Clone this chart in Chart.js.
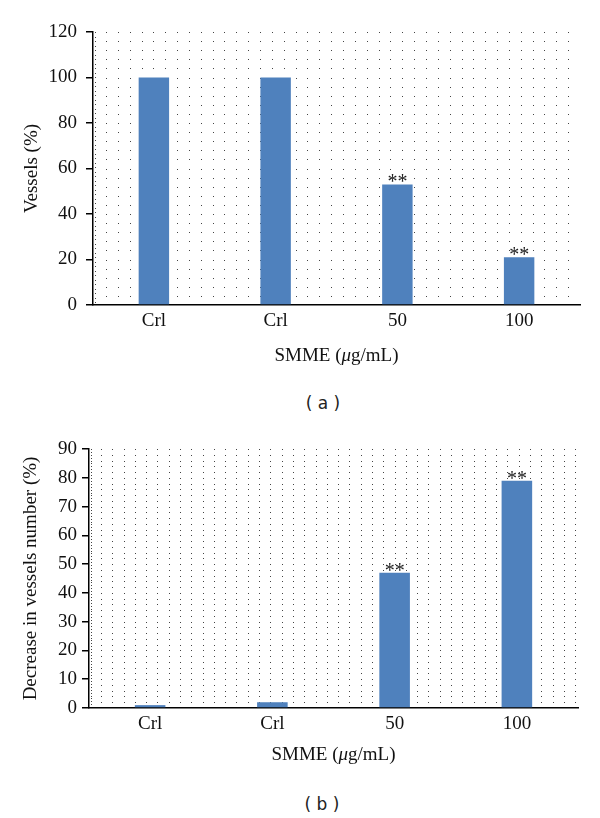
<!DOCTYPE html>
<html lang="en">
<head>
    <meta charset="UTF-8">
    <title>SMME vessels</title>
    <script src="https://cdn.jsdelivr.net/npm/chart.js"></script>
    <style>
        body {
            margin: 0;
            padding: 0;
            background: #fff;
            width: 600px;
            height: 818px;
            position: relative;
            overflow: hidden;
        }
        .panel {
            position: absolute;
            left: 0;
        }
        .tag {
            position: absolute;
            width: 80px;
            text-align: center;
            font-family: 'DejaVu Sans', sans-serif;
            font-size: 17px;
            color: #222;
            line-height: 20px;
        }
    </style>
</head>
<body>
    <div class="panel" style="top: 0;"><canvas id="chartA" width="600" height="372"></canvas></div>
    <div class="tag" style="left: 283px; top: 393px;">( a )</div>
    <div class="panel" style="top: 417px;"><canvas id="chartB" width="600" height="355"></canvas></div>
    <div class="tag" style="left: 282px; top: 794px;">( b )</div>

    <script>
        const categories = ['Crl', 'Crl', '50', '100'];
        const vesselsPct = [100, 100, 53, 21];
        const decreasePct = [1, 2, 47, 79];
        const significance = ['', '', '**', '**'];
        const xTitleParts = ['SMME (', '\u03bc', 'g/mL)'];   // middle part in italics

        const serif = '"Liberation Serif", "Times New Roman", serif';
        const barColor = '#4f81bd';

        // dotted background pattern, rows placed from the y scale
        const dotGrid = {
            id: 'dotGrid',
            beforeDatasetsDraw(chart, args, opts) {
                const { ctx, chartArea: a, scales: { y } } = chart;
                ctx.save();
                ctx.fillStyle = '#444';
                // denser dotted line just right of the axis
                for (let py = a.top; py < a.bottom - 2; py += opts.edgeGap) {
                    ctx.fillRect(Math.round(a.left + 1.5), Math.round(py), 1, 1);
                }
                for (let v = opts.step; v <= y.max; v += opts.step) {
                    const py = Math.round(y.getPixelForValue(v));
                    for (let px = a.left + opts.start; px < a.right - opts.end; px += opts.gap) {
                        ctx.fillRect(Math.round(px), py, 1, 1);
                    }
                }
                ctx.restore();
            }
        };

        const sigMarks = {
            id: 'sigMarks',
            afterDatasetsDraw(chart) {
                const { ctx } = chart;
                const meta = chart.getDatasetMeta(0);
                ctx.save();
                ctx.font = '20px ' + serif;
                ctx.fillStyle = '#222';
                ctx.textAlign = 'center';
                ctx.textBaseline = 'alphabetic';
                meta.data.forEach((bar, i) => {
                    if (significance[i]) ctx.fillText(significance[i], bar.x, bar.y + 4);
                });
                ctx.restore();
            }
        };

        // x axis title with an italic mu, centred under the plot
        const xTitle = {
            id: 'xTitle',
            afterDraw(chart, args, opts) {
                const { ctx, chartArea: a } = chart;
                const fonts = ['19px ' + serif, 'italic 19px ' + serif, '19px ' + serif];
                ctx.save();
                ctx.fillStyle = '#111';
                ctx.textBaseline = 'middle';
                ctx.textAlign = 'left';
                const widths = xTitleParts.map((t, i) => { ctx.font = fonts[i]; return ctx.measureText(t).width; });
                let x = (a.left + a.right) / 2 - widths.reduce((s, w) => s + w, 0) / 2;
                const y = chart.height - opts.fromBottom;
                xTitleParts.forEach((t, i) => {
                    ctx.font = fonts[i];
                    ctx.fillText(t, x, y);
                    x += widths[i];
                });
                ctx.restore();
            }
        };

        function makeChart(id, values, yTitle, yMax, yStep, opt) {
            return new Chart(document.getElementById(id), {
                type: 'bar',
                data: {
                    labels: categories,
                    datasets: [{
                        data: values,
                        backgroundColor: barColor,
                        categoryPercentage: 1,
                        barPercentage: 0.25,
                    }],
                },
                options: {
                    responsive: false,
                    animation: false,
                    layout: { padding: { top: 32, right: opt.padRight, left: 0, bottom: 0 } },
                    plugins: {
                        legend: { display: false },
                        tooltip: { enabled: false },
                        dotGrid: opt.dots,
                        xTitle: { fromBottom: opt.xTitleFromBottom },
                    },
                    scales: {
                        x: {
                            grid: { display: true, drawOnChartArea: false, drawTicks: false },
                            border: { display: true, color: '#000', width: 1.5 },
                            ticks: { color: '#111', font: { family: serif, size: 19 }, padding: 5 },
                            afterFit: (s) => { s.height = opt.xHeight; },
                        },
                        y: {
                            min: 0,
                            max: yMax,
                            grid: { drawOnChartArea: false, drawTicks: true, tickLength: 7, color: '#000', lineWidth: 1.5 },
                            border: { display: true, color: '#000', width: 1.5 },
                            ticks: { stepSize: yStep, color: '#111', font: { family: serif, size: 19 }, padding: opt.tickPad },
                            title: {
                                display: true,
                                text: yTitle,
                                color: '#111',
                                font: { family: serif, size: 19 },
                                padding: { top: opt.yTitlePad, bottom: 0 },
                            },
                            afterFit: (s) => { s.width = opt.yWidth; },
                        },
                    },
                },
                plugins: [dotGrid, sigMarks, xTitle],
            });
        }

        makeChart('chartA', vesselsPct, 'Vessels (%)', 120, 20, {
            padRight: 20, xHeight: 67, yWidth: 93, tickPad: 9, yTitlePad: 21, xTitleFromBottom: 16,
            dots: { step: 4, start: 13, gap: 11.85, end: 9, edgeGap: 4.5 },
        });

        makeChart('chartB', decreasePct, 'Decrease in vessels number (%)', 90, 10, {
            padRight: 22, xHeight: 64, yWidth: 89, tickPad: 5, yTitlePad: 20, xTitleFromBottom: 17,
            dots: { step: 2, start: 12, gap: 11.29, end: 2, edgeGap: 2.9 },
        });
    </script>
</body>
</html>
